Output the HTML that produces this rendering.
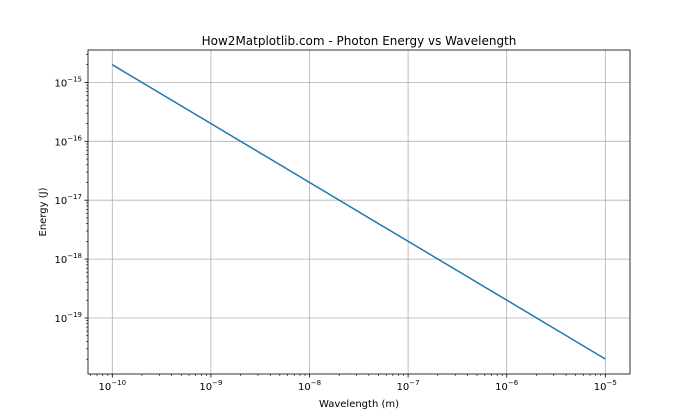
<!DOCTYPE html>
<html><head><meta charset="utf-8"><style>
html,body{margin:0;padding:0;background:#fff;}
svg{display:block;font-family:"DejaVu Sans","Liberation Sans",sans-serif;}
</style></head><body>
<svg id="s" width="700" height="420" xmlns="http://www.w3.org/2000/svg">
<rect width="700" height="420" fill="#fff"/>
<g id="g"></g>
<polyline points="112.3,64.7 605.3,359" fill="none" stroke="#1f77b4" stroke-width="1.5"/>
<rect x="88" y="50" width="542" height="324" fill="none" stroke="#000" stroke-width="0.8"/>
<text x="359" y="45" font-size="12" text-anchor="middle">How2Matplotlib.com - Photon Energy vs Wavelength</text>
<text x="359" y="407" font-size="10" text-anchor="middle">Wavelength (m)</text>
<text transform="translate(46,212) rotate(-90)" font-size="10" text-anchor="middle">Energy (J)</text>
</svg>
<script>
var g=document.getElementById('g'),h='';
var L=88,R=630,T=50,B=374;
function X(e){return 112.3+(e+10)*98.6;}
function Y(e){return 82.4+(-15-e)*58.9;}
for(var d=-11;d<=-5;d++){
 var x=X(d);
 if(x>=L&&x<=R){
  h+='<line x1="'+x+'" y1="'+T+'" x2="'+x+'" y2="'+B+'" stroke="#b0b0b0" stroke-width="0.8"/>';
  h+='<line x1="'+x+'" y1="'+B+'" x2="'+x+'" y2="'+(B+3.5)+'" stroke="#000" stroke-width="0.8"/>';
  h+='<text x="'+x+'" y="'+(B+16)+'" font-size="10" text-anchor="middle">10<tspan dy="-5" font-size="7">\u2212'+(-d)+'</tspan></text>';
 }
 for(var m=2;m<10;m++){var xm=X(d+Math.log10(m));if(xm>L&&xm<R)h+='<line x1="'+xm+'" y1="'+B+'" x2="'+xm+'" y2="'+(B+2)+'" stroke="#000" stroke-width="0.6"/>';}
}
for(var d=-21;d<=-14;d++){
 var y=Y(d);
 if(y>=T&&y<=B){
  h+='<line x1="'+L+'" y1="'+y+'" x2="'+R+'" y2="'+y+'" stroke="#b0b0b0" stroke-width="0.8"/>';
  h+='<line x1="'+(L-3.5)+'" y1="'+y+'" x2="'+L+'" y2="'+y+'" stroke="#000" stroke-width="0.8"/>';
  h+='<text x="'+(L-6)+'" y="'+(y+4)+'" font-size="10" text-anchor="end">10<tspan dy="-5" font-size="7">\u2212'+(-d)+'</tspan></text>';
 }
 for(var m=2;m<10;m++){var ym=Y(d+Math.log10(m));if(ym>T&&ym<B)h+='<line x1="'+(L-2)+'" y1="'+ym+'" x2="'+L+'" y2="'+ym+'" stroke="#000" stroke-width="0.6"/>';}
}
g.innerHTML=h;
</script>
</body></html>
